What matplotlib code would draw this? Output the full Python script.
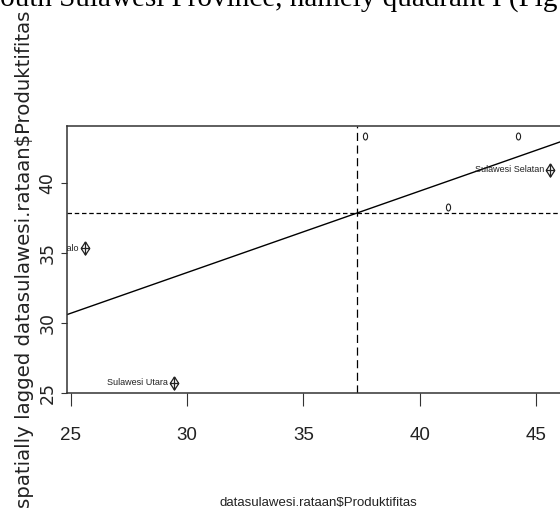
import matplotlib
import matplotlib.pyplot as plt
import numpy as np
from matplotlib.path import Path
from matplotlib.transforms import ScaledTranslation

matplotlib.use("Agg")

# provinces flagged as influential (labelled, diamond marker)
infl_names = ["Gorontalo", "Sulawesi Utara", "Sulawesi Selatan"]
infl_x = [25.62, 29.42, 45.62]
infl_y = [35.31, 25.71, 40.92]

# remaining provinces (open circles)
other_x = [37.64, 44.21, 41.21]
other_y = [43.36, 43.36, 38.26]

x_ticks = [25, 30, 35, 40, 45]
y_ticks = [25, 30, 35, 40]

x_label = "datasulawesi.rataan$Produktifitas"
y_label = "spatially lagged datasulawesi.rataan$Produktifitas"
caption = "South Sulawesi Province, namely quadrant I (Fig"

narrow = "Liberation Sans"
ink = "#222222"

# squeezed marker shapes (the source picture is compressed sideways)
sq = 0.65
diamond_plus = Path(
    [(0, 1), (sq, 0), (0, -1), (-sq, 0), (0, 1),
     (-sq, 0), (sq, 0), (0, -1), (0, 1)],
    [Path.MOVETO, Path.LINETO, Path.LINETO, Path.LINETO, Path.LINETO,
     Path.MOVETO, Path.LINETO, Path.MOVETO, Path.LINETO],
)
circ = Path.unit_circle()
oval = Path(circ.vertices * [0.6, 1.0], circ.codes)

fig = plt.figure(figsize=(5.6, 5.19), dpi=100)
ax = fig.add_axes([66.7 / 560, 1 - 392.7 / 519, 502.3 / 560, 267.0 / 519])

all_x = np.array(infl_x + other_x)
all_y = np.array(infl_y + other_y)

ax.plot(other_x, other_y, linestyle="none", marker=oval, markersize=5,
        markerfacecolor="none", markeredgecolor=ink, markeredgewidth=0.8)
ax.plot(infl_x, infl_y, linestyle="none", marker=diamond_plus, markersize=9.5,
        markerfacecolor="none", markeredgecolor=ink, markeredgewidth=0.9)

shift = ScaledTranslation(-4.5 / 72, 0, fig.dpi_scale_trans)
for name, px, py in zip(infl_names, infl_x, infl_y):
    ax.text(px, py, name, ha="right", va="center", fontsize=6.5,
            family=narrow, color=ink, clip_on=True,
            transform=ax.transData + shift)

# regression line and mean lines
slope, intercept = np.polyfit(all_x, all_y, 1)
ax.axline((0, intercept), slope=slope, color="black", linewidth=1.0)
ax.axhline(all_y.mean(), color="black", linewidth=0.9, dashes=(3.6, 2.2))
ax.axvline(all_x.mean(), color="black", linewidth=0.9, dashes=(6.5, 3.6))

span_x = all_x.max() - all_x.min()
span_y = all_y.max() - all_y.min()
ax.set_xlim(all_x.min() - 0.04 * span_x, all_x.max() + 0.04 * span_x)
ax.set_ylim(all_y.min() - 0.04 * span_y, all_y.max() + 0.04 * span_y)

for s in ax.spines.values():
    s.set_color("#333333")
    s.set_linewidth(1.1)

ax.set_xticks(x_ticks)
ax.set_yticks(y_ticks)
ax.set_xticklabels([str(t) for t in x_ticks], family=narrow, fontsize=13.5, color=ink)
ax.set_yticklabels([str(t) for t in y_ticks], fontsize=12.5, color=ink,
                   rotation=90, va="center")
ax.tick_params(axis="x", length=9.5, width=0.8, pad=15, colors="#333333",
               labelcolor=ink)
ax.tick_params(axis="y", length=4.3, width=0.8, pad=3, colors="#333333",
               labelcolor=ink)

fig.text(318 / 560, 1 - 503 / 519, x_label, ha="center", va="center",
         family=narrow, fontsize=9.5, color=ink)
fig.text(25 / 560, 1 - 259 / 519, y_label, ha="center", va="center",
         rotation=90, fontsize=14.2, color=ink)
fig.text(-16.5 / 560, 1 - 6 / 519, caption, ha="left", va="baseline",
         family="Liberation Serif", fontsize=21, color="black")

fig.savefig("out.png", dpi=100)
